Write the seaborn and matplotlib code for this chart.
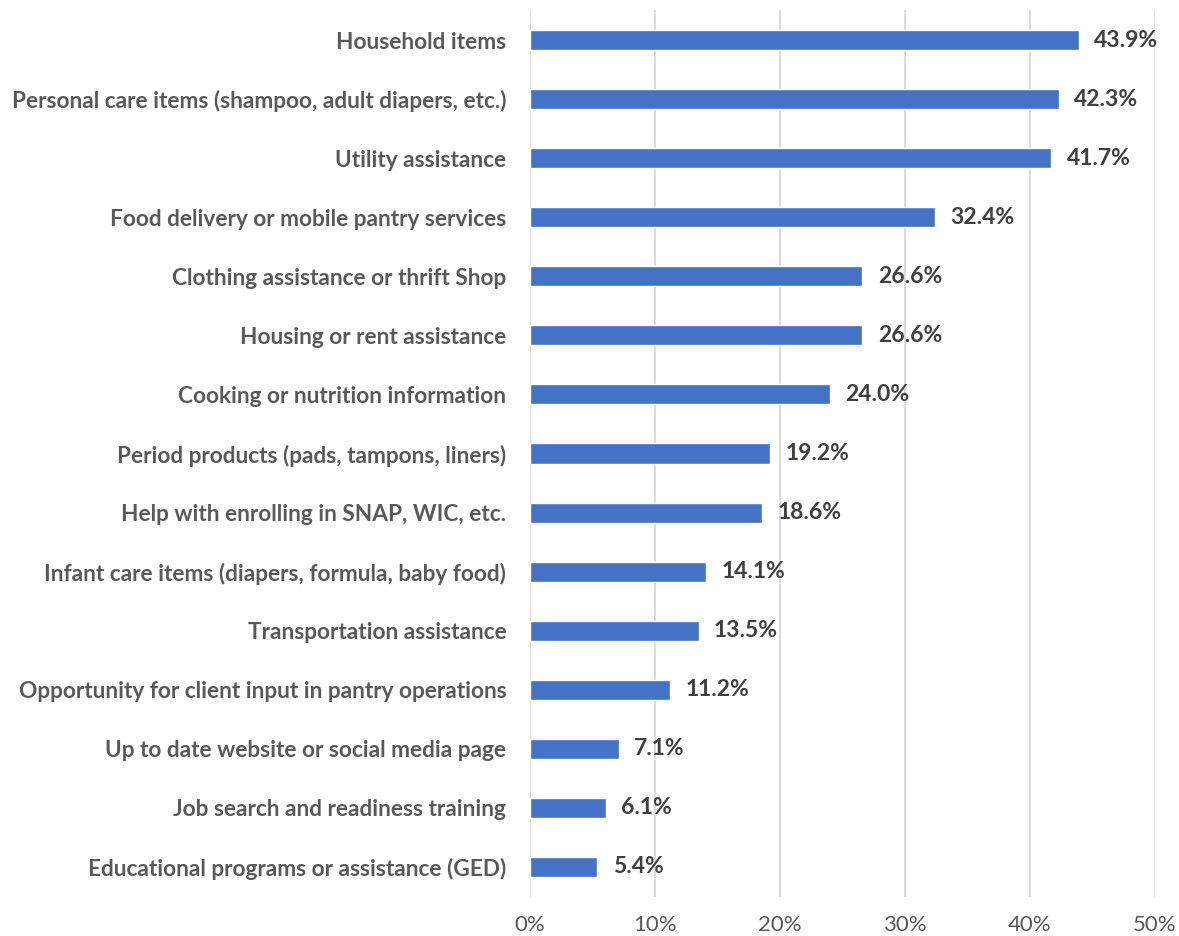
import matplotlib
matplotlib.use("Agg")
import matplotlib.pyplot as plt
import seaborn as sns
import pandas as pd
from matplotlib.ticker import FuncFormatter

categories = [
    "Household items",
    "Personal care items (shampoo, adult diapers, etc.)",
    "Utility assistance",
    "Food delivery or mobile pantry services",
    "Clothing assistance or thrift Shop",
    "Housing or rent assistance",
    "Cooking or nutrition information",
    "Period products (pads, tampons, liners)",
    "Help with enrolling in SNAP, WIC, etc.",
    "Infant care items (diapers, formula, baby food)",
    "Transportation assistance",
    "Opportunity for client input in pantry operations",
    "Up to date website or social media page",
    "Job search and readiness training",
    "Educational programs or assistance (GED)",
]
values = [43.9, 42.3, 41.7, 32.4, 26.6, 26.6, 24.0, 19.2, 18.6, 14.1, 13.5, 11.2, 7.1, 6.1, 5.4]
x_ticks = [0, 10, 20, 30, 40, 50]

sns.set_theme(style="white")
plt.rcParams["font.family"] = ["Lato", "DejaVu Sans"]

df = pd.DataFrame({"category": categories, "value": values})

fig = plt.figure(figsize=(11.79, 9.36), dpi=100)
ax = fig.add_axes([0.4495, 0.0422, 0.5301, 0.9466])

sns.barplot(data=df, x="value", y="category", color="#4472C4", width=0.34,
            saturation=1, ax=ax, zorder=3)

ax.set_xlim(0, 50)
ax.set_xticks(x_ticks)
ax.xaxis.set_major_formatter(FuncFormatter(lambda v, _: f"{v:.0f}%"))
ax.grid(axis="x", color="#d9d9d9", linewidth=1.3, zorder=0)
ax.set_axisbelow(True)
for s in ax.spines.values():
    s.set_visible(False)
ax.set_xlabel("")
ax.set_ylabel("")
ax.tick_params(axis="x", length=0, pad=13, labelsize=16, labelcolor="#595959")
ax.tick_params(axis="y", length=0, pad=17, labelsize=16.3, labelcolor="#595959")
for lbl in ax.get_yticklabels():
    lbl.set_fontweight("bold")

for container in ax.containers:
    ax.bar_label(container, labels=[f"{v:.1f}%" for v in values], padding=11,
                 fontsize=16.5, fontweight="bold", color="#404040")

fig.savefig("out.png", dpi=100)
